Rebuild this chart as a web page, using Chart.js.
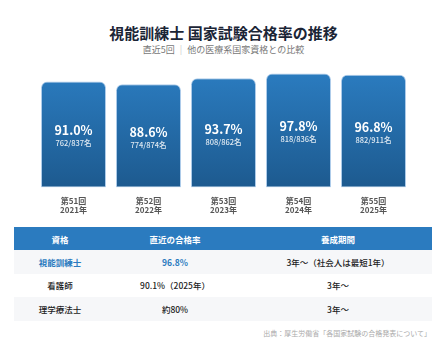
<!DOCTYPE html>
<html lang="ja">
<head>
<meta charset="utf-8">
<script src="https://cdn.jsdelivr.net/npm/chart.js@4"></script>
<style>
  html, body { margin: 0; padding: 0; background: #fff; }
  body { width: 447px; height: 360px; position: relative; overflow: hidden;
         font-family: "Noto Sans CJK JP", "Noto Sans", sans-serif; }
  .title { position: absolute; top: 23px; left: 0; width: 447px; text-align: center;
           font-size: 15px; font-weight: 700; color: #1b2536; line-height: 20px; }
  .sub { position: absolute; top: 43px; left: 0; width: 447px; text-align: center;
         font-size: 9px; color: #777; line-height: 14px; }
  .sub .sep { color: #ccc; margin: 0 5px; }
  .chart-box { position: absolute; left: 0; top: 60px; width: 447px; height: 155px; }
  table { position: absolute; left: 14px; top: 227px; width: 418px; border-collapse: collapse;
          font-size: 8.5px; table-layout: fixed; }
  th { background: #2b7bbf; color: #fff; font-weight: 700; height: 23px; padding: 0; }
  td { height: 23.5px; padding: 0; text-align: center; color: #222; font-weight: 500; }
  tr.odd td { background: #f6f7f9; }
  tr.hl td { color: #2b7bbf; font-weight: 700; }
  tr.hl td.plain { color: #222; font-weight: 500; }
  .src { position: absolute; right: 16px; top: 328px; font-size: 7px; color: #aaa; }
</style>
</head>
<body>
<div class="title">視能訓練士 国家試験合格率の推移</div>
<div class="sub">直近5回<span class="sep">|</span>他の医療系国家資格との比較</div>
<div class="chart-box"><canvas id="pass-chart"></canvas></div>

<table>
  <colgroup><col style="width:92px"><col style="width:138px"><col style="width:188px"></colgroup>
  <thead><tr><th>資格</th><th>直近の合格率</th><th>養成期間</th></tr></thead>
  <tbody id="table-body"></tbody>
</table>
<div class="src">出典：厚生労働省「各国家試験の合格発表について」</div>

<script>
// ====================
// Datos
// ====================
const rounds = ['第51回', '第52回', '第53回', '第54回', '第55回'];
const years = ['2021年', '2022年', '2023年', '2024年', '2025年'];
const passRates = [91.0, 88.6, 93.7, 97.8, 96.8];
const passCounts = ['762/837名', '774/874名', '808/862名', '818/836名', '882/911名'];

const tableQualifications = ['視能訓練士', '看護師', '理学療法士'];
const tableRates = ['96.8%', '90.1%（2025年）', '約80%'];
const tablePeriods = ['3年〜（社会人は最短1年）', '3年〜', '3年〜'];

// ====================
// Tabla
// ====================
function buildTable() {
  const body = document.getElementById('table-body');
  tableQualifications.forEach((name, i) => {
    const tr = document.createElement('tr');
    if (i % 2 === 0) tr.className = 'odd';
    if (i === 0) tr.className += ' hl';
    const cells = [name, tableRates[i], tablePeriods[i]];
    cells.forEach((text, j) => {
      const td = document.createElement('td');
      td.textContent = text;
      if (j === 2) td.className = 'plain';
      tr.appendChild(td);
    });
    body.appendChild(tr);
  });
}

// Etiquetas dentro de las barras
const barTextPlugin = {
  id: 'barText',
  afterDatasetsDraw(chart) {
    const ctx = chart.ctx;
    const meta = chart.getDatasetMeta(0);
    ctx.save();
    ctx.textAlign = 'center';
    ctx.textBaseline = 'middle';
    meta.data.forEach((bar, i) => {
      const mid = (bar.y + bar.base) / 2;
      ctx.fillStyle = '#fff';
      ctx.font = '700 12.5px "Noto Sans CJK JP", "Noto Sans", sans-serif';
      ctx.fillText(passRates[i].toFixed(1) + '%', bar.x, mid - 4);
      ctx.font = '500 7.5px "Noto Sans CJK JP", "Noto Sans", sans-serif';
      ctx.fillStyle = 'rgba(255,255,255,0.85)';
      ctx.fillText(passCounts[i], bar.x, mid + 9);
    });
    ctx.restore();
  }
};

function barGradient(context) {
  const chart = context.chart;
  const area = chart.chartArea;
  if (!area) return '#2570b0';
  const g = chart.ctx.createLinearGradient(0, area.top, 0, area.bottom);
  g.addColorStop(0, '#2b7cc0');
  g.addColorStop(1, '#1d5a8f');
  return g;
}

function renderChart() {
  const ctx = document.getElementById('pass-chart').getContext('2d');
  new Chart(ctx, {
    type: 'bar',
    data: {
      labels: rounds.map((r, i) => [r, years[i]]),
      datasets: [{
        data: passRates,
        backgroundColor: barGradient,
        borderColor: 'rgba(120,170,220,0.6)',
        borderWidth: 1,
        borderSkipped: false,
        borderRadius: { topLeft: 6, topRight: 6, bottomLeft: 0, bottomRight: 0 },
        categoryPercentage: 1,
        barPercentage: 0.867
      }]
    },
    options: {
      responsive: true,
      maintainAspectRatio: false,
      animation: false,
      layout: { padding: { left: 36, right: 36, top: 11, bottom: 0 } },
      plugins: { legend: { display: false }, tooltip: { enabled: false } },
      scales: {
        y: { display: false, min: 0, max: 100 },
        x: {
          grid: { display: false },
          border: { display: false },
          ticks: {
            padding: 1,
            color: '#555',
            font: { family: '"Noto Sans CJK JP", "Noto Sans", sans-serif', size: 8, weight: '700', lineHeight: 1.1 }
          }
        }
      }
    },
    plugins: [barTextPlugin]
  });
}

buildTable();
renderChart();
</script>
</body>
</html>
